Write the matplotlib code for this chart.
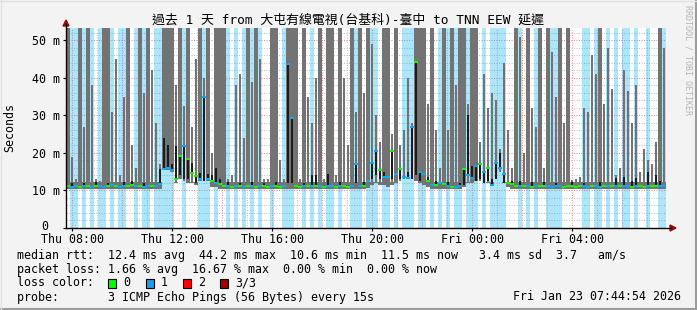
"""
SmokePing style latency graph (RRDtool look)
"""
import numpy as np
import matplotlib
matplotlib.use("Agg")
import matplotlib.pyplot as plt
from matplotlib.lines import Line2D
from matplotlib.patches import Rectangle, Polygon

W, H = 697, 310
plt.rcParams['font.family'] = ['DejaVu Sans Mono', 'Noto Sans CJK TC']

# 24 h window ending Fri 07:44:54, 150 bins (~9.6 min each)
start_hour = 7 + 44 / 60 + 54 / 3600
n_bins = 150
tick_labels = ["Thu 08:00", "Thu 12:00", "Thu 16:00", "Thu 20:00", "Fri 00:00", "Fri 04:00"]
y_labels = ["", "10 m", "20 m", "30 m", "40 m", "50 m"]

# top of smoke (ms), 60 = off the chart
smoke_hi = [
    60, 19, 13, 60, 27, 60, 38, 13, 12.5, 60, 60, 31, 45, 14, 35, 60, 22, 16, 60, 36, 60, 42, 28, 17, 60,
    60, 60, 38, 60, 32.5, 60, 27, 45, 60, 40, 60, 20, 60, 60, 60, 13, 14, 38, 41, 24, 60, 39, 60, 45, 13,
    13, 60, 60, 18, 13, 60, 60, 60, 13, 60, 35, 28, 40, 60, 13, 60, 60, 14, 60, 40, 22, 60, 31, 60, 36,
    60, 49, 30, 23, 60, 60, 25, 60, 22, 26, 40, 28, 60, 60, 60, 33, 60, 26, 16, 60, 26, 60, 38, 60, 60,
    33, 60, 60, 23, 41, 32, 36, 34, 21, 44, 26, 16, 60, 51, 20, 60, 32, 27, 60, 16, 60, 47, 35, 60, 28,
    60, 12.8, 13, 13.5, 32, 31, 46, 41, 60, 33, 48, 37, 14, 16, 42, 36.5, 28, 38, 15, 21, 18, 17, 23, 60, 48,
]
# bottom of smoke (ms)
smoke_lo = [
    10.3, 10.3, 10.3, 10.3, 10.3, 10.3, 10.3, 10.3, 10.3, 10.3, 10.3, 10.3, 10.3, 10.3, 10.3, 10.3, 10.3, 10.3, 10.3, 10.3, 10.3, 10.3, 10.3, 10.3, 15.5,
    15.5, 15.0, 12.0, 13.0, 12.5, 12.0, 12.0, 11.5, 12.5, 12.5, 12.5, 11.0, 10.8, 10.3, 10.3, 10.3, 10.3, 10.3, 10.3, 10.3, 10.3, 10.3, 10.3, 10.3, 10.3,
    10.3, 10.3, 10.3, 10.3, 10.3, 10.3, 10.3, 10.3, 10.3, 10.3, 10.3, 10.3, 10.3, 10.3, 10.3, 10.3, 10.3, 10.3, 10.3, 10.3, 10.3, 10.3, 10.3, 10.3, 10.3,
    10.6, 11.5, 12.0, 11.5, 11.5, 11.0, 11.5, 12.0, 12.5, 13.0, 13.0, 13.0, 12.5, 12.0, 11.5, 11.0, 10.3, 10.3, 10.3, 10.3, 10.3, 10.3, 10.3, 10.3, 10.8,
    12.0, 12.0, 12.5, 12.5, 12.5, 12.0, 11.5, 14.5, 15.0, 12.0, 11.0, 10.3, 10.3, 10.3, 10.3, 10.3, 10.3, 10.3, 10.3, 10.3, 10.3, 10.3, 10.3, 10.3, 10.3,
    10.3, 10.3, 10.3, 10.3, 10.3, 10.3, 10.3, 10.3, 10.3, 10.3, 10.3, 10.3, 10.3, 10.3, 10.3, 10.3, 10.3, 10.3, 10.3, 10.3, 10.3, 10.3, 10.3, 10.3, 10.3,
]
# median rtt (ms)
median = [
    11.1, 11.0, 11.2, 11.0, 11.1, 11.3, 11.0, 11.1, 11.2, 11.0, 11.1, 11.4, 11.1, 11.0, 11.2, 11.1, 11.5, 11.2, 11.1, 11.0, 11.1, 11.3, 11.1, 11.6, 15.7,
    16.0, 15.5, 13.0, 19.2, 21.8, 18.3, 14.7, 13.9, 13.0, 35.0, 13.0, 12.5, 12.0, 11.6, 11.3, 11.2, 11.0, 11.1, 11.2, 11.0, 11.1, 11.3, 11.0, 11.2, 11.1,
    11.0, 11.2, 11.1, 11.0, 11.2, 43.6, 29.4, 11.2, 11.0, 11.1, 11.3, 11.3, 11.2, 11.1, 11.0, 11.2, 11.1, 11.0, 11.2, 11.1, 11.0, 11.2, 17.0, 11.1, 11.3,
    12.5, 17.3, 20.5, 15.5, 13.5, 13.5, 20.5, 14.5, 15.6, 13.5, 13.3, 27.0, 44.2, 15.0, 14.5, 12.5, 11.5, 11.5, 12.0, 11.8, 11.3, 11.0, 11.0, 11.1, 15.6,
    14.0, 13.4, 16.5, 17.0, 15.0, 16.0, 11.5, 17.4, 16.0, 14.5, 12.0, 11.8, 11.2, 11.1, 11.3, 11.2, 11.0, 11.2, 11.1, 11.3, 11.2, 11.0, 11.1, 11.2, 11.0,
    11.1, 11.2, 11.0, 11.1, 11.2, 11.0, 11.1, 11.2, 11.0, 11.1, 11.2, 11.1, 11.3, 11.1, 11.2, 11.1, 11.0, 11.2, 11.1, 11.0, 11.3, 11.1, 11.2, 11.1, 11.2,
]
# other end of the dark inner smoke, measured from the median (0 = none)
dark_to = [
    0, 12, 0, 0, 11.9, 0, 0, 12.2, 0, 0, 12, 0, 0, 0, 12.3, 0, 12.5, 0, 0, 12, 0, 0, 0, 15.6, 24.0,
    22.0, 17.0, 21.8, 14.0, 13.0, 13.0, 17.4, 12.0, 14.7, 12.5, 14.5, 14.0, 16.0, 13.0, 0, 12.2, 0, 0, 12.1, 0, 0, 12.3, 0, 0, 12,
    0, 0, 12.2, 0, 0, 12.0, 12.0, 0, 0, 12.1, 0, 14.0, 14.0, 0, 0, 14.5, 0, 0, 12.2, 0, 0, 0, 12.0, 0, 12.3,
    0, 13.0, 14.0, 13.0, 15.0, 0, 13.0, 0, 13.0, 0, 15.0, 13.0, 14.0, 12.5, 0, 13.5, 0, 12.5, 0, 0, 12.2, 0, 0, 12.1, 11.5,
    30.0, 16.5, 12.5, 13.0, 12.0, 12.5, 13.0, 13.0, 20.0, 12.0, 0, 12.5, 0, 12.4, 0, 0, 12.2, 0, 0, 12.3, 0, 0, 12.1, 0, 0,
    0, 12.2, 0, 0, 12.1, 0, 0, 0, 12.3, 0, 0, 0, 13.3, 0, 13.5, 0, 12.4, 13.3, 0, 0, 14.8, 0, 14.0, 12.5, 0,
]
# lost pings per bin (of 3)
loss = [
    0, 1, 1, 0, 1, 0, 1, 0, 1, 1, 0, 1, 0, 1, 1, 0, 0, 1, 0, 1, 1, 0, 1, 1, 1,
    1, 1, 0, 0, 1, 0, 0, 0, 1, 1, 1, 0, 1, 0, 0, 1, 0, 1, 0, 1, 0, 1, 0, 1, 0,
    0, 1, 0, 0, 1, 1, 1, 0, 0, 1, 0, 1, 0, 1, 0, 1, 1, 0, 1, 0, 0, 1, 1, 1, 0,
    1, 1, 1, 0, 1, 1, 0, 1, 0, 1, 1, 1, 0, 1, 1, 0, 1, 0, 1, 0, 1, 0, 1, 1, 0,
    1, 1, 1, 0, 1, 0, 1, 1, 1, 1, 0, 0, 0, 1, 0, 1, 0, 1, 0, 0, 1, 1, 1, 1, 0,
    0, 0, 0, 0, 1, 1, 0, 1, 1, 0, 1, 0, 1, 0, 1, 1, 0, 1, 0, 0, 1, 0, 0, 1, 1,
]

LOSS_COLORS = {0: "#20f000", 1: "#10a8f0"}
LOSS_BG = "#00b0f0"
SMOKE = "#737373"
DARK = "#1c1c1c"
YMAX = 53.33
BASE_TOP = 12.3   # the smoke band around the median is drawn full width


def fx(px):
    return px / W


def fy(py):
    return 1 - py / H


fig = plt.figure(figsize=(W / 100, H / 100), dpi=100, facecolor="#f3f3f3")
ax = fig.add_axes([fx(66), fy(228), 600 / W, 200 / H])
ax.set_facecolor("white")
ax.set_xlim(0, 24)
ax.set_ylim(0, YMAX)

bin_h = 24 / n_bins
x = np.arange(n_bins) * bin_h
xc = x + bin_h / 2
hi = np.array(smoke_hi)
lo = np.array(smoke_lo)
med = np.array(median)
dk = np.array(dark_to)
ls = np.array(loss)

# grid first, the loss background is see-through
off = 8 - start_hour
for k in range(24):
    major = k % 2 == 0
    ax.axvline(off + k, color="#f09090" if major else "#c4c4c4", lw=0.75,
               linestyle=(0, (1, 1.4)), zorder=0.5)
for v in range(2, 54, 2):
    major = v % 10 == 0
    ax.axhline(v, color="#f09090" if major else "#c4c4c4", lw=0.75,
               linestyle=(0, (1, 1.4)), zorder=0.5)

# loss background
ax.bar(xc[ls > 0], YMAX, width=bin_h * 0.85, color=LOSS_BG, alpha=0.32, lw=0, zorder=1)
# smoke: low band full width, the excursions above it thinner unless off the chart
base_hi = np.minimum(hi, np.maximum(lo, BASE_TOP))
ax.bar(x, base_hi - lo, bottom=lo, width=bin_h, align="edge", color=SMOKE, lw=0, zorder=2,
       antialiased=False)
up = hi > base_hi
widths = np.where(hi >= 55, bin_h, bin_h * 0.55)
ax.bar(xc[up], (hi - base_hi)[up], bottom=base_hi[up], width=widths[up], color=SMOKE, lw=0,
       zorder=2)
# dark inner smoke
m = dk > 0
d_lo = np.minimum(dk, med)[m]
d_hi = np.maximum(dk, med)[m]
ax.bar(xc[m], d_hi - d_lo, bottom=d_lo, width=bin_h * 0.5, color=DARK, lw=0, zorder=3)
# median, coloured by loss
ax.hlines(med, x, x + bin_h, colors=[LOSS_COLORS[v] for v in loss], lw=1.5, zorder=4)

for s in ax.spines.values():
    s.set_visible(False)
ax.set_xticks([off + 4 * k for k in range(6)])
ax.set_xticklabels(tick_labels)
ax.set_yticks(range(0, 60, 10))
ax.set_yticklabels(y_labels)
ax.tick_params(axis="both", length=2, width=0.8, labelsize=8.4)
ax.tick_params(axis="x", pad=1.5)
ax.tick_params(axis="y", pad=2)
fig.text(fx(45), fy(227), "0", ha="center", va="center", fontsize=8.4)

# axis lines with little arrows
fig.add_artist(Line2D([fx(66), fx(671)], [fy(228), fy(228)], color="black", lw=1.0))
fig.add_artist(Line2D([fx(66), fx(66)], [fy(228), fy(24)], color="black", lw=1.0))
fig.add_artist(Polygon([(fx(670), fy(225)), (fx(676), fy(228)), (fx(670), fy(231))],
                       closed=True, color="#8b1010", transform=fig.transFigure))
fig.add_artist(Polygon([(fx(63), fy(26)), (fx(66), fy(20)), (fx(69), fy(26))],
                       closed=True, color="#8b1010", transform=fig.transFigure))

# texts
fig.text(fx(348), fy(20), "過去 1 天 from 大屯有線電視(台基科)-臺中 to TNN EEW 延遲",
         ha="center", va="center", fontsize=9.3, family=["DejaVu Sans Mono", "Noto Sans CJK TC"])
fig.text(fx(10), fy(128), "Seconds", rotation=90, ha="center", va="center", fontsize=8.4)
fig.text(fx(688), fy(60), "RRDTOOL / TOBI OETIKER", rotation=270, ha="center", va="center",
         fontsize=6, color="#b4b4b4")

fs = 8.4
fig.text(fx(17), fy(255), "median rtt:  12.4 ms avg  44.2 ms max  10.6 ms min  11.5 ms now   3.4 ms sd  3.7   am/s",
         ha="left", va="center", fontsize=fs)
fig.text(fx(17), fy(269), "packet loss: 1.66 % avg  16.67 % max  0.00 % min  0.00 % now",
         ha="left", va="center", fontsize=fs)
fig.text(fx(17), fy(283), "loss color:", ha="left", va="center", fontsize=fs)
legend_cols = ["#00ff00", "#1e9cf0", "#ff0000", "#a00000"]
legend_txt = ["0", "1", "2", "3/3"]
legend_x = [108, 146, 183, 220]
for c, t, px in zip(legend_cols, legend_txt, legend_x):
    fig.add_artist(Rectangle((fx(px), fy(288)), 8 / W, 9 / H, transform=fig.transFigure,
                             facecolor=c, edgecolor="black", lw=0.8))
    fig.text(fx(px + 15), fy(283), t, ha="left", va="center", fontsize=fs)
fig.text(fx(17), fy(297), "probe:       3 ICMP Echo Pings (56 Bytes) every 15s",
         ha="left", va="center", fontsize=fs)
fig.text(fx(681), fy(297), "Fri Jan 23 07:44:54 2026", ha="right", va="center", fontsize=fs)

# frame
fig.add_artist(Line2D([0, 1], [fy(309), fy(309)], color="#9c9c9c", lw=1.5))
fig.add_artist(Line2D([fx(696), fx(696)], [0, 1], color="#9c9c9c", lw=1.5))
fig.add_artist(Line2D([0, 1], [fy(0.5), fy(0.5)], color="#e2e2e2", lw=1))
fig.add_artist(Line2D([fx(0.5), fx(0.5)], [0, 1], color="#e2e2e2", lw=1))

fig.savefig("out.png", dpi=100, facecolor=fig.get_facecolor())
